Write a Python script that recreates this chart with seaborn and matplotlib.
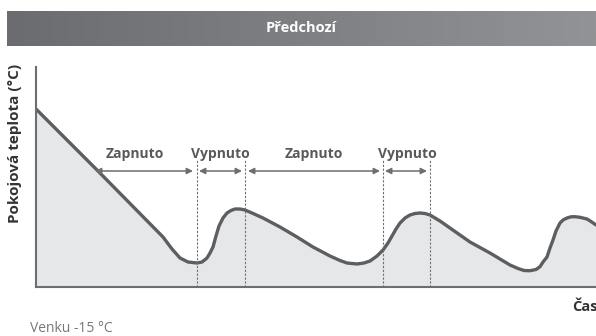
import matplotlib
matplotlib.use("Agg")
import matplotlib.pyplot as plt
import numpy as np
import pandas as pd
import seaborn as sns

# curve (x = time, y = room temperature, arbitrary units)
time_pts = [0, 61, 127, 136, 144, 152, 161, 166, 171, 174, 177, 180, 183, 187,
            191, 195, 199, 204, 209, 216, 227, 244, 261, 277, 294, 304, 311,
            321, 328, 334, 341, 347, 352, 356, 360, 364, 369, 374, 379, 384,
            389, 394, 404, 414, 434, 454, 464, 474, 482, 488, 494, 500, 504,
            507, 511, 514, 517, 520, 524, 527, 531, 535, 539, 544, 551, 555, 560]
temp_pts = [178, 117, 50, 38, 29, 25, 24, 25, 29, 34, 40, 51, 61, 69,
            74, 76.5, 78, 78, 77, 74, 69, 60, 50, 40, 31, 26.5, 24,
            23, 24, 26, 31, 37, 44, 51, 58, 64, 69, 72, 73.5, 74,
            73.5, 72, 66, 59, 45, 34, 28, 22, 18.5, 16.5, 16.3, 17.5, 20.3,
            25, 30, 39, 47, 56, 64, 67, 69, 70.2, 70.3, 69.7, 68, 65.5, 62]

# on/off phases
switch_times = [161, 209, 347, 394]
phase_labels = ["Zapnuto", "Vypnuto", "Zapnuto", "Vypnuto"]
phase_starts = [59, 163, 212, 349]
phase_ends = [157, 206, 344, 391]
label_x = [99, 184, 278, 371]

df = pd.DataFrame({"cas": time_pts, "teplota": temp_pts})

sns.set_style("white")
plt.rcParams["font.family"] = ["Open Sans", "DejaVu Sans"]

fig = plt.figure(figsize=(5.96, 3.36), dpi=100)

# header band with gradient
hax = fig.add_axes([7 / 596, 1 - 46 / 336, 589 / 596, 35 / 336])
grad = np.linspace(0, 1, 256).reshape(1, -1)
cmap = matplotlib.colors.LinearSegmentedColormap.from_list("hdr", ["#6b6c6f", "#929396"])
hax.imshow(grad, aspect="auto", cmap=cmap, extent=[0, 1, 0, 1])
hax.set_axis_off()
hax.text(0.5, 0.5, "Předchozí", color="white", fontsize=10.5, fontweight="bold",
         ha="center", va="center", transform=hax.transAxes)

ax = fig.add_axes([36 / 596, 1 - 287 / 336, 560 / 596, 220 / 336])
ax.fill_between(df["cas"], df["teplota"], 0, color="#e6e7e8", lw=0)
sns.lineplot(data=df, x="cas", y="teplota", ax=ax, color="#5d5e61", lw=2.4,
             solid_joinstyle="round", solid_capstyle="round")

for t in switch_times:
    ax.plot([t, t], [0, 127], color="#6d6e71", lw=0.8, ls=(0, (2, 1.5)))

for lab, x0, x1, xl in zip(phase_labels, phase_starts, phase_ends, label_x):
    ax.annotate("", xy=(x1, 116), xytext=(x0, 116),
                arrowprops=dict(arrowstyle="<|-|>", color="#6d6e71", lw=1.1,
                                mutation_scale=9, shrinkA=0, shrinkB=0))
    ax.text(xl, 133, lab, ha="center", va="center", fontsize=10,
            fontweight="bold", color="#58595b")

ax.set_xlim(0, 560)
ax.set_ylim(0, 220)
ax.set_xticks([])
ax.set_yticks([])
ax.set_xlabel("")
ax.set_ylabel("")
for s in ["top", "right"]:
    ax.spines[s].set_visible(False)
for s in ["left", "bottom"]:
    ax.spines[s].set_color("#6d6e71")
    ax.spines[s].set_linewidth(1.5)

fig.text(15 / 596, 1 - 143 / 336, "Pokojová teplota (°C)", rotation=90,
         ha="center", va="center", fontsize=11, fontweight="bold", color="#333333")
fig.text(572 / 596, 1 - 307 / 336, "Čas", ha="left", va="center",
         fontsize=10.5, fontweight="bold", color="#333333")
fig.text(30 / 596, 1 - 328 / 336, "Venku -15 °C", ha="left", va="center",
         fontsize=10, color="#777777")

fig.savefig("out.png", dpi=100)
